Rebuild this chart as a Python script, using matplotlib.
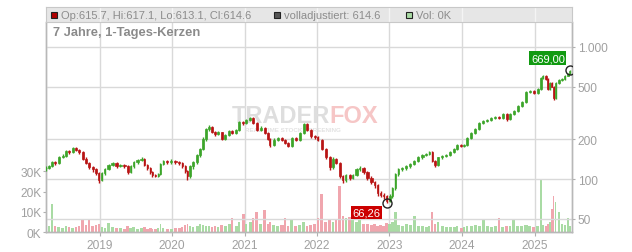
import matplotlib
matplotlib.use("Agg")
import matplotlib.pyplot as plt
from matplotlib.patches import Rectangle
import numpy as np
import pandas as pd

# ---------- data (about one candle every ~2-3 weeks) ----------
DATES = [
    "2018-04-07", "2018-04-20", "2018-05-05", "2018-05-20", "2018-06-09", "2018-06-29", "2018-07-14", "2018-07-29", "2018-08-18", "2018-09-03",
    "2018-09-18", "2018-10-08", "2018-10-23", "2018-11-07", "2018-11-27", "2018-12-12", "2018-12-27", "2019-01-11", "2019-01-26", "2019-02-15",
    "2019-03-07", "2019-03-27", "2019-04-16", "2019-05-06", "2019-05-22", "2019-06-06", "2019-06-21", "2019-07-11", "2019-07-31", "2019-08-15",
    "2019-08-30", "2019-09-14", "2019-09-24", "2019-10-09", "2019-10-24", "2019-11-03", "2019-11-18", "2019-12-08", "2019-12-28", "2020-01-18",
    "2020-02-07", "2020-02-22", "2020-03-08", "2020-03-18", "2020-04-02", "2020-04-17", "2020-05-07", "2020-05-22", "2020-06-06", "2020-06-21",
    "2020-07-06", "2020-07-21", "2020-08-05", "2020-08-20", "2020-09-07", "2020-09-25", "2020-10-15", "2020-10-30", "2020-11-19", "2020-12-04",
    "2020-12-24", "2021-01-08", "2021-01-28", "2021-02-12", "2021-03-04", "2021-03-24", "2021-04-13", "2021-04-28", "2021-05-08", "2021-05-28",
    "2021-06-17", "2021-07-08", "2021-07-23", "2021-08-07", "2021-08-27", "2021-09-16", "2021-10-06", "2021-10-26", "2021-11-10", "2021-11-30",
    "2021-12-20", "2022-01-04", "2022-01-24", "2022-02-14", "2022-03-06", "2022-03-21", "2022-04-05", "2022-04-25", "2022-05-10", "2022-05-25",
    "2022-06-14", "2022-06-29", "2022-07-19", "2022-08-03", "2022-08-23", "2022-09-12", "2022-10-02", "2022-10-18", "2022-11-02", "2022-11-17",
    "2022-12-02", "2022-12-17", "2023-01-02", "2023-01-16", "2023-01-31", "2023-02-15", "2023-03-07", "2023-03-27", "2023-04-16", "2023-05-06",
    "2023-05-26", "2023-06-16", "2023-07-06", "2023-07-21", "2023-08-05", "2023-08-20", "2023-09-04", "2023-09-24", "2023-10-14", "2023-11-03",
    "2023-11-23", "2023-12-08", "2023-12-28", "2024-01-12", "2024-01-27", "2024-02-16", "2024-03-08", "2024-03-28", "2024-04-17", "2024-05-07",
    "2024-05-27", "2024-06-16", "2024-07-06", "2024-07-26", "2024-08-15", "2024-08-30", "2024-09-19", "2024-10-09", "2024-10-29", "2024-11-19",
    "2024-12-09", "2024-12-29", "2025-01-18", "2025-02-02", "2025-02-12", "2025-02-27", "2025-03-09", "2025-03-19", "2025-03-29", "2025-04-08",
    "2025-04-18", "2025-05-03", "2025-05-18", "2025-06-02", "2025-06-18", "2025-06-28",
]
CLOSES = [
    121, 125, 134.5, 132, 147, 150, 163, 160, 171, 166,
    160, 142, 132, 123, 119, 111, 98, 111, 119, 128,
    132, 125, 128, 125, 113, 125, 134, 139, 142, 128,
    121, 113, 107, 106, 109, 130, 137, 134, 138, 134,
    132, 125, 115, 105, 125, 134, 152, 169, 201, 239,
    246, 227, 219, 226, 201, 215, 231, 223, 235, 270,
    266, 280, 290, 266, 235, 243, 223, 201, 181, 198,
    204, 198, 188, 178, 204, 198, 223, 261, 235, 211,
    207, 198, 169, 146, 123, 142, 132, 105, 98, 107,
    102, 107, 119, 121, 113, 102, 95, 90, 78, 76,
    74, 68, 74, 85, 109, 119, 121, 125, 130, 137,
    146, 152, 155, 160, 137, 128, 146, 149, 152, 160,
    169, 181, 178, 181, 204, 223, 239, 266, 275, 280,
    290, 295, 290, 311, 285, 311, 327, 357, 384, 455,
    463, 448, 481, 583, 603, 572, 481, 532, 500, 410,
    532, 564, 572, 603, 625, 660,
]
HIGHS = [
    125, 128, 137, 138, 150, 156, 166, 167, 175, 174,
    169, 163, 146, 135, 126, 121, 113, 114, 122, 131,
    135, 134, 131, 130, 127, 127, 137, 142, 146, 144,
    130, 123, 115, 109, 111, 132, 140, 140, 141, 140,
    137, 134, 127, 117, 127, 137, 155, 173, 207, 245,
    255, 250, 231, 231, 229, 219, 237, 236, 240, 276,
    277, 287, 297, 293, 270, 250, 249, 227, 205, 203,
    209, 207, 201, 192, 208, 208, 228, 267, 265, 239,
    216, 211, 200, 173, 149, 146, 145, 135, 108, 110,
    110, 110, 122, 125, 124, 115, 105, 97, 92, 81,
    79, 76, 77, 87, 112, 122, 124, 128, 133, 140,
    149, 155, 158, 164, 162, 140, 148, 152, 155, 163,
    172, 184, 184, 185, 207, 227, 243, 270, 280, 286,
    296, 301, 300, 318, 316, 315, 333, 363, 392, 462,
    475, 470, 490, 595, 615, 610, 578, 540, 540, 505,
    540, 575, 585, 612, 635, 669,
]
LOWS = [
    115, 119, 123, 128, 130, 144, 148, 156, 157, 162,
    156, 139, 129, 120, 113, 107, 94, 96, 108, 117,
    125, 122, 123, 122, 110, 111, 122, 131, 136, 125,
    118, 110, 104, 103, 103, 107, 127, 131, 131, 131,
    128, 122, 111, 98, 102, 120, 130, 148, 165, 195,
    232, 222, 213, 214, 196, 197, 210, 218, 218, 230,
    258, 262, 275, 262, 230, 230, 218, 197, 176, 178,
    194, 194, 184, 174, 175, 193, 195, 219, 230, 206,
    202, 194, 165, 141, 118, 120, 129, 101, 93, 95,
    99, 100, 105, 116, 110, 99, 92, 86, 75, 73,
    71, 66.26, 67, 72, 83, 105, 115, 118, 122, 127,
    134, 143, 149, 152, 134, 124, 125, 143, 146, 150,
    157, 166, 174, 175, 178, 200, 219, 235, 261, 270,
    274, 284, 283, 285, 275, 280, 305, 322, 350, 378,
    445, 440, 440, 475, 575, 560, 470, 470, 495, 400,
    405, 525, 555, 565, 598, 620,
]
VOLUME_K = [
    6.5, 3, 14, 3, 2.5, 2, 3, 2.5, 2, 2.5,
    3, 6, 3.5, 6.5, 3, 3.5, 4, 2.5, 2, 4.5,
    2.5, 2, 2, 1.5, 3, 2, 2.5, 1.5, 2, 2.5,
    1.5, 2, 1.5, 1.5, 2, 4, 2, 1.5, 1.5, 2,
    2, 2.5, 3.5, 4, 3, 2.5, 3, 4, 3.5, 3,
    3, 2.5, 3, 2.5, 3.5, 3, 4, 7, 3, 5,
    9, 4, 5, 7, 10, 4, 11, 4, 5, 3.5,
    3, 3.5, 7, 3, 6.5, 3, 3.5, 5, 3, 3.5,
    4, 7, 19, 5, 6, 5, 6, 23, 8, 7,
    7.5, 6, 5, 6.5, 4, 4, 3.5, 4, 3, 3.5,
    3, 4.5, 4, 5, 10, 3.5, 3, 4, 3.5, 8,
    3, 3, 2.5, 3, 10, 4, 5, 3, 2.5, 2.5,
    2.5, 3, 2, 2.5, 3, 3, 3.5, 3, 6.5, 3,
    2.5, 3, 7, 2.5, 3, 3, 6.5, 3, 3, 3.5,
    3, 2.5, 3, 26, 3.5, 3, 4, 5, 11.5, 18,
    15, 10, 4, 3.5, 7, 3,
]
YEARS = [2019, 2020, 2021, 2022, 2023, 2024, 2025]
PRICE_TICKS = [50, 100, 200, 500, 1000]
PRICE_LABELS = ["50", "100", "200", "500", "1.000"]
VOL_TICKS = [0, 10, 20, 30]
VOL_LABELS = ["0K", "10K", "20K", "30K"]
HEADER_OHLC = "Op:615.7, Hi:617.1, Lo:613.1, Cl:614.6"
HEADER_ADJ = "volladjustiert: 614.6"
HEADER_VOL = "Vol: 0K"
TITLE = "7 Jahre, 1-Tages-Kerzen"

GREEN = "#3ca52a"
RED = "#b81414"
VOL_GREEN = "#a9dba4"
VOL_RED = "#f0a6ae"
GRID = "#d9d9d9"
TXT = "#a0a0a0"

plt.rcParams["font.family"] = ["Liberation Sans", "DejaVu Sans"]

dates = pd.to_datetime(DATES)
closes = np.array(CLOSES, dtype=float)
highs = np.array(HIGHS, dtype=float)
lows = np.array(LOWS, dtype=float)
opens = np.r_[closes[0], closes[:-1]]
up = closes >= opens
colors = np.where(up, GREEN, RED)
# candle body width: share of the gap to the previous candle (days)
gap = np.diff(dates.values).astype("timedelta64[D]").astype(float)
gap = np.r_[gap[0], gap]

W, H = 632, 253
def box(x0, y0, x1, y1):
    return [x0 / W, 1 - y1 / H, (x1 - x0) / W, (y1 - y0) / H]

fig = plt.figure(figsize=(W / 100, H / 100), dpi=100)
ax_v = fig.add_axes(box(45.5, 22.7, 572, 233.3))
ax_p = ax_v.twinx()
hdr = fig.add_axes(box(45.5, 8.3, 572, 22.7))

x0, x1 = pd.Timestamp("2018-04-03"), pd.Timestamp("2025-07-09")
year_pos = [pd.Timestamp(f"{y}-01-01") for y in YEARS]

# volume (left axis)
ax_v.bar(dates, VOLUME_K, width=gap * 0.75, color=np.where(up, VOL_GREEN, VOL_RED), zorder=2)
ax_v.set_ylim(0, 103.7)
ax_v.set_yticks(VOL_TICKS)
ax_v.set_yticklabels(VOL_LABELS)
ax_v.set_xlim(x0, x1)
ax_v.set_xticks(year_pos)
ax_v.set_xticklabels([str(y) for y in YEARS])
for x in year_pos:
    ax_v.axvline(x, color=GRID, lw=1, zorder=0)

# watermark
ax_v.text(0.540, 0.555, "TRADER", transform=ax_v.transAxes, ha="right", va="center",
          fontsize=17, fontweight="bold", color="#dedede", zorder=1)
ax_v.text(0.540, 0.555, "FOX", transform=ax_v.transAxes, ha="left", va="center",
          fontsize=17, fontweight="bold", color="#f6c6c6", zorder=1)
ax_v.text(0.47, 0.49, "REAL-TIME STOCK SCREENING", transform=ax_v.transAxes, ha="center",
          va="center", fontsize=4.5, fontweight="bold", color="#e2e2e2", zorder=1)

# price candles (right axis, log)
ax_p.set_yscale("log")
ax_p.set_ylim(39.5, 1554)
for y in PRICE_TICKS:
    ax_p.axhline(y, color=GRID, lw=1, zorder=0)
ax_p.vlines(dates, lows, highs, colors=colors, lw=1, zorder=3)
lo, hi = np.minimum(opens, closes), np.maximum(opens, closes)
ax_p.bar(dates, hi - lo, bottom=lo, width=gap * 0.55, color=colors,
         edgecolor=colors, linewidth=0.5, zorder=3)
ax_p.set_yticks(PRICE_TICKS)
ax_p.set_yticklabels(PRICE_LABELS)
ax_p.minorticks_off()

imax, imin = int(np.argmax(highs)), int(np.argmin(lows))
for i, val, dx, dy, fc in [(imax, highs[imax], -22, 12, "#119a11"),
                           (imin, lows[imin], -20, -10, "#cc0000")]:
    ax_p.plot(dates[i], val, "o", mfc="none", mec="#222222", ms=6.5, mew=1, zorder=5)
    ax_p.annotate(f"{val:.2f}".replace(".", ","), xy=(dates[i], val),
                  xytext=(dx, dy), textcoords="offset pixels", ha="center", va="center",
                  color="white", fontsize=8,
                  bbox=dict(boxstyle="square,pad=0.15", fc=fc, ec="none"), zorder=6)

for a in (ax_v, ax_p):
    for s in a.spines.values():
        s.set_color("#b8b8b8")
        s.set_linewidth(1)
    a.spines["top"].set_visible(False)
ax_v.tick_params(axis="y", colors="#b0b0b0", labelcolor=TXT, labelsize=8.6, length=2.5, pad=0.5)
ax_v.tick_params(axis="x", colors="#b0b0b0", labelcolor=TXT, labelsize=8.6, length=3, pad=2)
ax_p.tick_params(axis="y", colors="#b0b0b0", labelcolor=TXT, labelsize=8.6, length=2.5, pad=1.5)

# header band
hdr.set_facecolor("#e6e6e6")
hdr.set_xlim(x0, x1)
hdr.set_ylim(0, 1)
for x in year_pos:
    hdr.axvline(x, color="#f4f4f4", lw=1)
hdr.set_xticks([])
hdr.set_yticks([])
for s in hdr.spines.values():
    s.set_color("#c8c8c8")

for sx, fc, label in [(50.7, "#b00000", HEADER_OHLC), (274, "#555555", HEADER_ADJ),
                      (406, VOL_GREEN, HEADER_VOL)]:
    fig.add_artist(Rectangle((sx / W, 1 - 18.7 / H), 6 / W, 6 / H, transform=fig.transFigure,
                             fc=fc, ec="#222222", lw=0.8))
    fig.text((sx + 10.5) / W, 1 - 15.7 / H, label, ha="left", va="center",
             fontsize=8, color="#8c8c8c")

fig.text(53 / W, 1 - 32.7 / H, TITLE, ha="left", va="center", fontsize=9.3,
         fontweight="bold", color="#8a8a8a")

fig.savefig("out.png", dpi=100)
